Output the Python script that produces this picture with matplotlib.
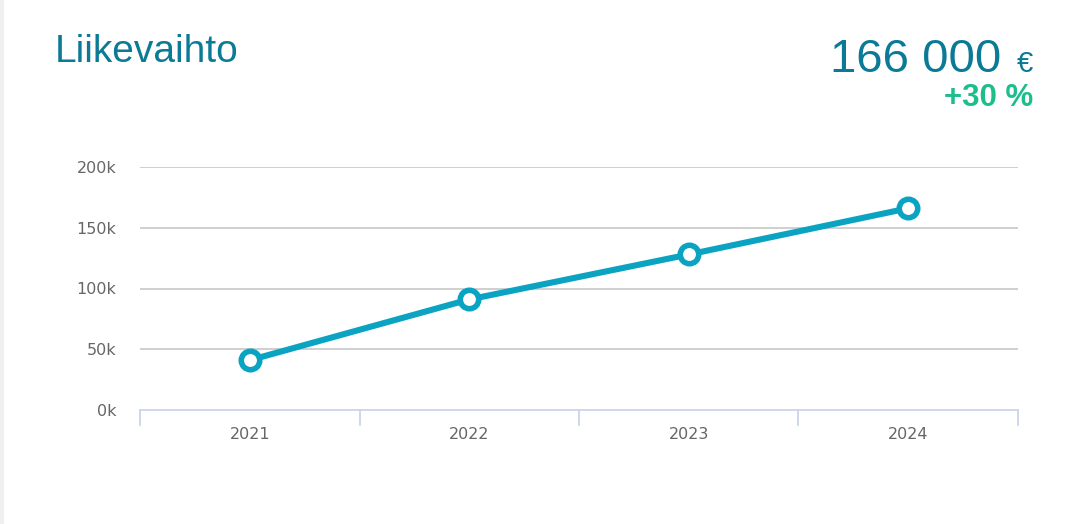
import matplotlib
matplotlib.use("Agg")
import matplotlib.pyplot as plt
from matplotlib.patches import Rectangle

years = ["2021", "2022", "2023", "2024"]
revenue = [41000, 91000, 128000, 166000]
y_ticks = [0, 50000, 100000, 150000, 200000]
y_tick_labels = ["0k", "50k", "100k", "150k", "200k"]
title = "Liikevaihto"
headline_value = "166 000"
headline_unit = "€"
change_text = "+30 %"

plt.rcParams["font.family"] = ["DejaVu Sans"]

W, H = 1080, 524
fig = plt.figure(figsize=(W / 100, H / 100), dpi=100)
fig.patch.set_facecolor("white")
fig.patches.append(Rectangle((0, 0), 4 / W, 1, transform=fig.transFigure,
                             facecolor="#f0f0f0", edgecolor="none", zorder=0))

left, right = 140 / W, 1018 / W
bottom, top = 1 - 410 / H, 1 - 167 / H
ax = fig.add_axes([left, bottom, right - left, top - bottom])

x = list(range(len(years)))
ax.plot(x, revenue, color="#0aa3c2", lw=4.4, solid_capstyle="round", zorder=3,
        marker="o", ms=13.3, mfc="white", mec="#0aa3c2", mew=4.0)

ax.set_xlim(-0.5, len(years) - 0.5)
ax.set_ylim(0, 200000)
ax.set_yticks(y_ticks)
ax.set_yticklabels(y_tick_labels)
ax.set_xticks(x)
ax.set_xticklabels(years)

for yv in y_ticks[1:]:
    ax.axhline(yv, color="#cfcfcf", lw=1.4, zorder=1)

for s in ["top", "right", "left"]:
    ax.spines[s].set_visible(False)
ax.spines["bottom"].set_color("#ccd6eb")
ax.spines["bottom"].set_linewidth(1.3)

ax.tick_params(axis="y", length=0, pad=17, labelsize=11.5, labelcolor="#666666")
ax.tick_params(axis="x", length=0, pad=12, labelsize=11.5, labelcolor="#666666")

# category boundary ticks
for b in [i - 0.5 for i in range(len(years) + 1)]:
    ax.plot([b, b], [0, -12000], color="#ccd6eb", lw=1.3, clip_on=False, zorder=2)

fig.text(55 / W, 1 - 62 / H, title, fontsize=28, color="#0b7a96",
         family="Liberation Sans", ha="left", va="baseline")
fig.text(1001 / W, 1 - 72 / H, headline_value, fontsize=34, color="#0b7a96",
         family="Liberation Sans", ha="right", va="baseline")
fig.text(1033 / W, 1 - 72 / H, headline_unit, fontsize=21, color="#0b7a96",
         family="Liberation Sans", ha="right", va="baseline")
fig.text(1033 / W, 1 - 106 / H, change_text, fontsize=22.5, color="#1cbf8c",
         family="Liberation Sans", fontweight="bold", ha="right", va="baseline")

fig.savefig("out.png", dpi=100, facecolor="white")
